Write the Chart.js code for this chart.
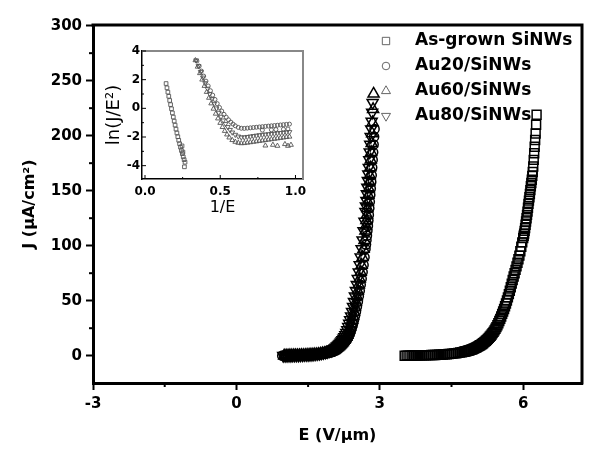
<!DOCTYPE html>
<html>
<head>
<meta charset="utf-8">
<script src="https://cdn.jsdelivr.net/npm/chart.js@4.4.0/dist/chart.umd.min.js"></script>
<style>
  body { margin: 0; background: #fff; }
  #wrap { position: relative; width: 600px; height: 462px; }
  #main { position: absolute; left: 0; top: 0; }
  #inset { position: absolute; left: 95px; top: 38px; }
</style>
</head>
<body>
<div id="wrap">
  <canvas id="main" width="600" height="462"></canvas>
  <canvas id="inset" width="220" height="182"></canvas>
</div>
<script>
var FONT = "'DejaVu Sans', sans-serif";

// series names and marker styles
var seriesNames = ['As-grown SiNWs', 'Au20/SiNWs', 'Au60/SiNWs', 'Au80/SiNWs'];
var seriesStyles = ['rect', 'circle', 'triangle', 'triangle'];
var seriesRotation = [0, 0, 0, 180];

// main plot: E (V/um) and J (uA/cm2)
var asGrownE = [3.52,3.56,3.60,3.64,3.68,3.72,3.76,3.80,3.84,3.88,3.92,3.96,4.00,4.04,4.08,4.12,4.16,4.20,4.24,4.28,
  4.32,4.36,4.40,4.44,4.48,4.52,4.56,4.60,4.64,4.68,4.72,4.76,
  4.78,4.80,4.82,4.84,4.86,4.88,4.90,4.92,4.94,4.96,4.98,5.00,5.02,5.04,5.06,5.08,5.10,5.12,5.14,5.16,
  5.18,5.20,5.22,5.24,5.26,5.28,5.30,5.32,5.34,5.36,5.38,5.40,5.42,5.44,5.46,5.48,5.50,5.52,5.54,5.56,
  5.58,5.60,5.62,5.64,5.66,5.68,5.70,5.72,5.74,5.76,5.78,5.80,5.82,5.84,5.86,5.88,5.90,5.92,5.94,5.96,5.98,
  6.00,6.01,6.02,6.03,6.04,6.05,6.06,6.07,6.08,6.09,6.10,6.11,6.12,6.13,6.14,6.15,6.16,6.17,6.18,6.19,
  6.20,6.21,6.22,6.23,6.24,6.25,6.26,6.27,6.28];
var asGrownJ = [0.0,0.1,0.1,0.1,0.2,0.2,0.2,0.3,0.3,0.3,0.4,0.4,0.5,0.5,0.6,0.6,0.7,0.8,0.9,1.0,
  1.1,1.2,1.4,1.5,1.7,1.9,2.1,2.3,2.6,2.9,3.2,3.6,
  3.8,4.0,4.2,4.5,4.7,5.0,5.3,5.6,5.9,6.3,6.7,7.1,7.5,8.0,8.5,9.0,9.5,10.1,10.7,11.4,
  12.1,12.8,13.6,14.4,15.3,16.2,17.2,18.2,19.3,20.5,21.7,23.0,24.5,26.0,27.7,29.5,31.5,33.5,35.7,38.0,
  40.2,42.5,45.0,47.5,50.2,53.0,56.0,59.0,62.2,65.5,68.8,72.0,75.0,78.0,81.2,84.5,87.7,91.0,95.0,99.0,103,
  107,109,111,113.5,116,119,122,125,128,131,134.5,138,141,144,147,150.5,154,157,160,163.5,
  167,172,178,184,190,196,202,210,219];

var au20E = [0.96,1.00,1.04,1.08,1.12,1.16,1.20,1.24,1.28,1.32,1.36,1.40,1.44,1.48,1.52,1.56,1.60,1.64,1.68,1.72,
  1.76,1.80,1.84,1.88,1.92,1.96,
  2.00,2.02,2.04,2.06,2.08,2.10,2.12,2.14,2.16,2.18,2.20,2.22,2.24,2.26,2.28,2.30,2.32,2.34,2.36,2.38,
  2.40,2.42,2.44,2.46,2.48,2.50,2.52,2.54,2.56,2.58,2.60,2.62,2.64,2.66,2.68,2.70,
  2.71,2.72,2.73,2.74,2.75,2.76,2.77,2.78,2.79,2.80,2.81,2.82,2.83,2.84,2.85,2.86,2.87,2.88,2.89];
var au20J = [0.0,0.0,0.1,0.1,0.1,0.2,0.2,0.3,0.3,0.3,0.4,0.4,0.5,0.5,0.6,0.7,0.8,0.9,1.0,1.2,
  1.4,1.6,1.9,2.2,2.6,3.0,
  3.4,3.7,4.0,4.5,5.0,5.6,6.2,6.9,7.6,8.4,9.2,10.1,11.0,12.0,13.1,14.3,15.6,17.0,18.8,21.0,
  23.5,26.3,29.3,32.5,36.0,40.0,44.5,49.0,54.0,59.0,64.5,70.0,76.0,82.5,89.5,97.0,
  101,105,109,113.5,118,123,128,134,140,146,152,158,164,171,178,185,192,199,206];

var au60E = [1.00,1.04,1.08,1.12,1.16,1.20,1.24,1.28,1.32,1.36,1.40,1.44,1.48,1.52,1.56,1.60,1.64,1.68,1.72,1.76,
  1.80,1.84,1.88,1.92,1.96,
  2.00,2.02,2.04,2.06,2.08,2.10,2.12,2.14,2.16,2.18,2.20,2.22,2.24,2.26,2.28,2.30,2.32,2.34,2.36,2.38,
  2.40,2.42,2.44,2.46,2.48,2.50,2.52,2.54,2.56,2.58,2.60,2.62,2.64,2.66,2.68,2.70,
  2.71,2.72,2.73,2.74,2.75,2.76,2.77,2.78,2.79,2.80,2.81,2.82,2.83,2.84,2.85,2.86,2.87];
var au60J = [0.0,0.1,0.1,0.2,0.2,0.3,0.3,0.4,0.4,0.5,0.5,0.6,0.7,0.8,0.9,1.0,1.1,1.3,1.5,1.7,
  2.0,2.3,2.7,3.1,3.6,
  4.0,4.5,5.0,5.6,6.2,6.9,7.6,8.4,9.2,10.1,11.0,12.0,13.1,14.3,15.6,17.0,18.8,21.0,23.5,26.3,
  29.3,32.5,36.0,40.0,44.5,49.0,54.0,59.0,64.5,70.0,76.0,82.5,89.5,97.0,105.0,113.5,
  118,123,128,134,140,146,152,158,164,171,178,185,193,202,212,224,238];

var au80E = [0.98,1.02,1.06,1.10,1.14,1.18,1.22,1.26,1.30,1.34,1.38,1.42,1.46,1.50,1.54,1.58,1.62,1.66,1.70,1.74,
  1.78,1.82,1.86,1.90,1.94,1.98,
  2.00,2.02,2.04,2.06,2.08,2.10,2.12,2.14,2.16,2.18,2.20,2.22,2.24,2.26,2.28,2.30,2.32,2.34,2.36,2.38,
  2.40,2.42,2.44,2.46,2.48,2.50,2.52,2.54,2.56,2.58,2.60,2.62,2.64,2.66,2.68,2.70,
  2.71,2.72,2.73,2.74,2.75,2.76,2.77,2.78,2.79,2.80,2.81,2.82,2.83,2.84,2.85];
var au80J = [0.0,0.1,0.1,0.2,0.2,0.3,0.3,0.4,0.4,0.5,0.6,0.7,0.8,0.9,1.0,1.1,1.3,1.5,1.7,2.0,
  2.3,2.7,3.1,3.6,4.1,4.7,
  5.0,5.6,6.2,6.9,7.6,8.4,9.2,10.1,11.0,12.0,13.1,14.3,15.6,17.0,18.8,21.0,23.5,26.3,29.3,32.5,
  36.0,40.0,44.5,49.0,54.0,59.0,64.5,70.0,76.0,82.5,89.5,97.0,105.0,113.5,122,131,
  136,141,147,153,159,165,171,178,185,192,199,206,213,221,230];

// inset: 1/E against ln(J/E^2)
var insetAsGrownX = [0.140,0.146,0.152,0.158,0.164,0.170,0.176,0.182,0.188,0.194,0.200,0.206,0.212,0.218,0.224,
  0.230,0.236,0.242,0.248,0.254,0.260,0.266,0.246,0.252,0.262];
var insetAsGrownY = [1.73,1.43,1.13,0.84,0.55,0.26,-0.03,-0.32,-0.61,-0.89,-1.17,-1.45,-1.72,-1.98,-2.23,
  -2.47,-2.71,-2.94,-3.16,-3.38,-3.58,-3.76,-2.62,-3.05,-4.08];

var insetAu20X = [0.345,0.36,0.375,0.39,0.405,0.42,0.435,0.45,0.465,0.48,0.495,0.51,0.525,0.54,0.555,0.57,0.585,0.60,
  0.62,0.64,0.66,0.68,0.70,0.72,0.74,0.76,0.78,0.80,0.82,0.84,0.86,0.88,0.90,0.92,0.94,0.96,
  0.78,0.84,0.87,0.92,0.95];
var insetAu20Y = [3.30,2.95,2.60,2.25,1.90,1.56,1.23,0.92,0.62,0.33,0.06,-0.19,-0.42,-0.62,-0.80,-0.96,-1.10,-1.22,
  -1.33,-1.39,-1.40,-1.38,-1.36,-1.34,-1.32,-1.30,-1.28,-1.26,-1.24,-1.22,-1.20,-1.18,-1.16,-1.14,-1.12,-1.10,
  -1.52,-1.50,-1.48,-1.46,-1.44];

var insetAu60X = [0.335,0.35,0.365,0.38,0.395,0.41,0.425,0.44,0.455,0.47,0.485,0.50,0.515,0.53,0.545,0.56,0.58,0.60,
  0.62,0.64,0.66,0.68,0.70,0.72,0.74,0.76,0.78,0.80,0.82,0.84,0.86,0.88,0.90,0.92,0.94,0.96,
  0.80,0.85,0.88,0.93,0.95,0.97];
var insetAu60Y = [3.35,2.90,2.45,2.00,1.56,1.14,0.73,0.34,-0.03,-0.38,-0.71,-1.02,-1.31,-1.58,-1.83,-2.04,-2.22,-2.34,
  -2.41,-2.44,-2.43,-2.40,-2.37,-2.34,-2.31,-2.28,-2.25,-2.22,-2.19,-2.16,-2.13,-2.10,-2.07,-2.04,-2.01,-1.98,
  -2.60,-2.55,-2.62,-2.50,-2.62,-2.55];

var insetAu80X = [0.34,0.355,0.37,0.385,0.40,0.415,0.43,0.445,0.46,0.475,0.49,0.505,0.52,0.535,0.55,0.565,0.58,0.60,
  0.62,0.64,0.66,0.68,0.70,0.72,0.74,0.76,0.78,0.80,0.82,0.84,0.86,0.88,0.90,0.92,0.94,0.96];
var insetAu80Y = [3.35,2.95,2.55,2.15,1.76,1.38,1.01,0.66,0.32,0.00,-0.30,-0.58,-0.84,-1.08,-1.30,-1.50,-1.68,-1.84,
  -1.96,-2.02,-2.02,-1.99,-1.96,-1.93,-1.90,-1.87,-1.84,-1.82,-1.80,-1.78,-1.76,-1.73,-1.71,-1.69,-1.67,-1.65];

// ticks
var xTicks = [-3, 0, 3, 6];
var xMinor = [-1.5, 1.5, 4.5];
var yTicks = [0, 50, 100, 150, 200, 250, 300];
var yMinor = [25, 75, 125, 175, 225, 275];
var insetXTicks = [0, 0.5, 1.0];
var insetXMinor = [0.25, 0.75];
var insetYTicks = [-4, -2, 0, 2, 4];
var insetYMinor = [-3, -1, 1, 3];

function pts(xs, ys) {
  return xs.map(function(x, i) { return {x: x, y: ys[i]}; });
}

var mainData = [pts(asGrownE, asGrownJ), pts(au20E, au20J), pts(au60E, au60J), pts(au80E, au80J)];
var insetData = [pts(insetAsGrownX, insetAsGrownY), pts(insetAu20X, insetAu20Y),
                 pts(insetAu60X, insetAu60Y), pts(insetAu80X, insetAu80Y)];
var mainRadius = [6.3, 4.6, 6.4, 6.4];
var insetRadius = [2.6, 2.0, 2.8, 2.8];

function line(ctx, x1, y1, x2, y2) {
  ctx.beginPath(); ctx.moveTo(x1, y1); ctx.lineTo(x2, y2); ctx.stroke();
}

var mainDecor = {
  id: 'mainDecor',
  afterDraw: function(chart) {
    var ctx = chart.ctx, a = chart.chartArea;
    var x = chart.scales.x, y = chart.scales.y;
    ctx.save();
    ctx.strokeStyle = '#000';
    ctx.lineCap = 'square';
    ctx.lineWidth = 3;
    ctx.beginPath();
    ctx.moveTo(a.left, a.top); ctx.lineTo(a.right, a.top); ctx.lineTo(a.right, a.bottom);
    ctx.stroke();
    ctx.lineCap = 'butt';
    ctx.lineWidth = 2;
    xMinor.forEach(function(v) { var p = x.getPixelForValue(v); line(ctx, p, a.bottom, p, a.bottom + 4); });
    yMinor.forEach(function(v) { var p = y.getPixelForValue(v); line(ctx, a.left - 4, p, a.left, p); });

    // legend
    ctx.font = 'bold 17px ' + FONT;
    ctx.textBaseline = 'middle';
    ctx.fillStyle = '#000';
    for (var i = 0; i < seriesNames.length; i++) {
      var ry = a.top + 16 + i * 25;
      ctx.save();
      ctx.strokeStyle = '#555';
      ctx.fillStyle = 'rgba(0,0,0,0)';
      ctx.lineWidth = 0.9;
      Chart.helpers.drawPoint(ctx, {pointStyle: seriesStyles[i], rotation: seriesRotation[i],
        radius: i === 1 ? 3.8 : 5.2, borderWidth: 0.9}, a.right - 196, ry);
      ctx.restore();
      ctx.fillText(seriesNames[i], a.right - 167, ry);
    }
    ctx.restore();
  }
};

var insetDecor = {
  id: 'insetDecor',
  afterDraw: function(chart) {
    var ctx = chart.ctx, a = chart.chartArea;
    var x = chart.scales.x, y = chart.scales.y;
    ctx.save();
    ctx.strokeStyle = '#888';
    ctx.lineWidth = 2;
    line(ctx, a.left, a.top, a.right + 1, a.top);
    line(ctx, a.right, a.top, a.right, a.bottom);
    ctx.strokeStyle = '#000';
    ctx.lineWidth = 1;
    insetXTicks.forEach(function(v) { var p = x.getPixelForValue(v); line(ctx, p, a.bottom, p, a.bottom - 4); });
    insetXMinor.forEach(function(v) { var p = x.getPixelForValue(v); line(ctx, p, a.bottom, p, a.bottom - 2); });
    insetYTicks.forEach(function(v) { var p = y.getPixelForValue(v); line(ctx, a.left, p, a.left + 4, p); });
    insetYMinor.forEach(function(v) { var p = y.getPixelForValue(v); line(ctx, a.left, p, a.left + 2, p); });
    ctx.restore();
  }
};

new Chart(document.getElementById('main'), {
  type: 'scatter',
  data: {
    datasets: mainData.map(function(d, i) {
      return {
        label: seriesNames[i],
        data: d,
        showLine: false,
        pointStyle: seriesStyles[i],
        pointRotation: seriesRotation[i],
        pointRadius: mainRadius[i],
        pointBorderWidth: 1.5,
        pointBorderColor: '#000',
        pointBackgroundColor: 'rgba(0,0,0,0)'
      };
    })
  },
  options: {
    responsive: false,
    animation: false,
    devicePixelRatio: 1,
    layout: { padding: { left: 0, top: 25, right: 18, bottom: 0 } },
    plugins: { legend: { display: false }, tooltip: { enabled: false } },
    scales: {
      x: {
        type: 'linear', min: -3, max: 7.23,
        afterBuildTicks: function(s) { s.ticks = xTicks.map(function(v) { return {value: v}; }); },
        afterFit: function(s) { s.height = 79; },
        grid: { display: true, drawOnChartArea: false, drawTicks: true, tickLength: 7, tickWidth: 2, tickColor: '#000' },
        border: { display: true, color: '#000', width: 3 },
        ticks: { color: '#000', font: { family: FONT, size: 15, weight: 'bold' }, padding: 5, maxRotation: 0, autoSkip: false },
        title: { display: true, text: 'E (V/\u03bcm)', color: '#000', font: { family: FONT, size: 16, weight: 'bold' },
                 padding: { top: 0, bottom: 17 } }
      },
      y: {
        type: 'linear', min: -24.8, max: 300.6,
        afterBuildTicks: function(s) { s.ticks = yTicks.map(function(v) { return {value: v}; }); },
        afterFit: function(s) { s.width = 93; },
        grid: { display: true, drawOnChartArea: false, drawTicks: true, tickLength: 7, tickWidth: 2, tickColor: '#000' },
        border: { display: true, color: '#000', width: 3 },
        ticks: { color: '#000', font: { family: FONT, size: 15, weight: 'bold' }, padding: 4, autoSkip: false },
        title: { display: true, text: 'J (\u03bcA/cm\u00b2)', color: '#000', font: { family: FONT, size: 16, weight: 'bold' },
                 padding: { top: 20, bottom: 0 } }
      }
    }
  },
  plugins: [mainDecor]
});

new Chart(document.getElementById('inset'), {
  type: 'scatter',
  data: {
    datasets: insetData.map(function(d, i) {
      return {
        label: seriesNames[i],
        data: d,
        showLine: false,
        pointStyle: seriesStyles[i],
        pointRotation: seriesRotation[i],
        pointRadius: insetRadius[i],
        pointBorderWidth: 0.9,
        pointBorderColor: '#555',
        pointBackgroundColor: 'rgba(0,0,0,0)'
      };
    })
  },
  options: {
    responsive: false,
    animation: false,
    devicePixelRatio: 1,
    layout: { padding: { left: 0, top: 13, right: 12, bottom: 0 } },
    plugins: { legend: { display: false }, tooltip: { enabled: false } },
    scales: {
      x: {
        type: 'linear', min: -0.02, max: 1.05,
        afterBuildTicks: function(s) { s.ticks = insetXTicks.map(function(v) { return {value: v}; }); },
        afterFit: function(s) { s.height = 41; },
        grid: { display: true, drawOnChartArea: false, drawTicks: false },
        border: { display: true, color: '#000', width: 1.5 },
        ticks: { color: '#000', font: { family: FONT, size: 12, weight: 'bold' }, padding: 6, maxRotation: 0, autoSkip: false,
                 callback: function(v) { return Number(v).toFixed(1); } },
        title: { display: true, text: '1/E', color: '#000', font: { family: FONT, size: 16 },
                 padding: { top: 0, bottom: 3 } }
      },
      y: {
        type: 'linear', min: -4.93, max: 4.0,
        afterBuildTicks: function(s) { s.ticks = insetYTicks.map(function(v) { return {value: v}; }); },
        afterFit: function(s) { s.width = 47; },
        grid: { display: true, drawOnChartArea: false, drawTicks: false },
        border: { display: true, color: '#000', width: 1.5 },
        ticks: { color: '#000', font: { family: FONT, size: 12, weight: 'bold' }, padding: 2, autoSkip: false },
        title: { display: true, text: 'ln(J/E\u00b2)', color: '#000', font: { family: FONT, size: 18 },
                 padding: { top: 9, bottom: 0 } }
      }
    }
  },
  plugins: [insetDecor]
});
</script>
</body>
</html>
